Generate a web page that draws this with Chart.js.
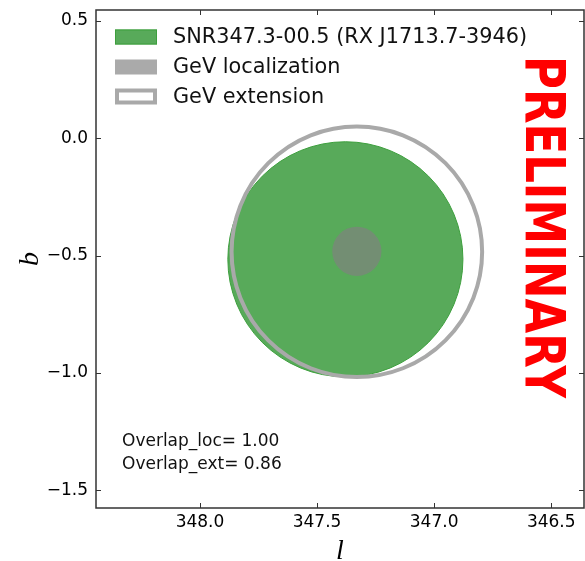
<!DOCTYPE html>
<html>
<head>
<meta charset="utf-8">
<script src="https://cdn.jsdelivr.net/npm/chart.js@4.4.1/dist/chart.umd.min.js"></script>
<style>
  html, body { margin: 0; padding: 0; background: #fff; }
  #wrap { width: 585px; height: 561px; }
</style>
</head>
<body>
<div id="wrap"><canvas id="c" width="585" height="561"></canvas></div>
<script>
// 源的名称、中心位置 (l, b) 和半径（度）
const sourceNames = ['SNR347.3-00.5 (RX J1713.7-3946)', 'GeV localization', 'GeV extension'];
const centerL = [347.379, 347.33, 347.33];
const centerB = [-0.516, -0.482, -0.484];
const radiusDeg = [0.502, 0.105, 0.535];

// 坐标轴范围与刻度
const xRange = [346.36, 348.444];
const yRange = [-1.575, 0.5455];
const xTicks = [348.0, 347.5, 347.0, 346.5];
const yTicks = [0.5, 0.0, -0.5, -1.0, -1.5];

// 重叠度
const overlapLabels = ['Overlap_loc', 'Overlap_ext'];
const overlapValues = [1.00, 0.86];

// 绘制顺序：SNR 在最下，定位圆在最上
const styles = [
    { bg: '#58aa5a', border: '#3d9f3d', width: 1, order: 3 },
    { bg: 'rgba(128,128,128,0.67)', border: 'rgba(0,0,0,0)', width: 0, order: 1 },
    { bg: 'rgba(0,0,0,0)', border: '#a9a9a9', width: 4, order: 2 }
];

// 半径换算成像素
function radiusPx(ctx, i) {
    const s = ctx.chart.scales.x;
    return Math.abs(s.getPixelForValue(centerL[i] + radiusDeg[i]) - s.getPixelForValue(centerL[i]));
}

const datasets = sourceNames.map((name, i) => ({
    label: name,
    data: [{ x: centerL[i], y: centerB[i] }],
    backgroundColor: styles[i].bg,
    borderColor: styles[i].border,
    borderWidth: styles[i].width,
    order: styles[i].order,
    pointRadius: ctx => radiusPx(ctx, i),
    clip: false
}));

// 向内的刻度线和边框
const framePlugin = {
    id: 'frame',
    afterDatasetsDraw(chart) {
        const { ctx, chartArea: a, scales } = chart;
        ctx.save();
        ctx.strokeStyle = '#333';
        ctx.lineWidth = 1.5;
        ctx.strokeRect(a.left, a.top, a.right - a.left, a.bottom - a.top);
        ctx.lineWidth = 1;
        ctx.beginPath();
        xTicks.forEach(v => {
            const x = Math.round(scales.x.getPixelForValue(v)) + 0.5;
            ctx.moveTo(x, a.bottom); ctx.lineTo(x, a.bottom - 5);
            ctx.moveTo(x, a.top); ctx.lineTo(x, a.top + 5);
        });
        yTicks.forEach(v => {
            const y = Math.round(scales.y.getPixelForValue(v)) + 0.5;
            ctx.moveTo(a.left, y); ctx.lineTo(a.left + 5, y);
            ctx.moveTo(a.right, y); ctx.lineTo(a.right - 5, y);
        });
        ctx.stroke();
        ctx.restore();
    }
};

// 图例、注释和 PRELIMINARY 字样
const notePlugin = {
    id: 'notes',
    afterDraw(chart) {
        const ctx = chart.ctx;
        ctx.save();
        ctx.font = '20.8px "DejaVu Sans"';
        ctx.textBaseline = 'middle';
        ctx.textAlign = 'left';
        chart.data.datasets.forEach((ds, i) => {
            const y0 = 29.5 + 30 * i;
            if (i < 2) {
                ctx.fillStyle = ds.backgroundColor;
                ctx.fillRect(115, y0, 42, 15);
                if (ds.borderWidth) {
                    ctx.strokeStyle = ds.borderColor;
                    ctx.lineWidth = 1;
                    ctx.strokeRect(115.5, y0 + 0.5, 41, 14);
                }
            } else {
                ctx.strokeStyle = ds.borderColor;
                ctx.lineWidth = ds.borderWidth;
                ctx.strokeRect(117, y0 + 1, 38, 12);
            }
            ctx.fillStyle = '#111';
            ctx.fillText(ds.label, 173, y0 + 8);
        });

        ctx.font = '17px "DejaVu Sans"';
        overlapLabels.forEach((lab, i) => {
            ctx.fillText(lab + '= ' + overlapValues[i].toFixed(2), 122, 442 + 22.5 * i);
        });

        ctx.translate(540, 227);
        ctx.rotate(Math.PI / 2);
        ctx.font = 'bold 55px "DejaVu Sans"';
        const w = ctx.measureText('PRELIMINARY').width;
        ctx.scale(342 / w, 1);
        ctx.textAlign = 'center';
        ctx.fillStyle = '#ff0000';
        ctx.fillText('PRELIMINARY', 0, 0);
        ctx.restore();
    }
};

const fmt = v => (v < 0 ? '\u2212' : '') + Math.abs(v).toFixed(1);

new Chart(document.getElementById('c'), {
    type: 'scatter',
    data: { datasets },
    plugins: [framePlugin, notePlugin],
    options: {
        responsive: false,
        animation: false,
        events: [],
        layout: { padding: { top: 10, right: 1, left: 0, bottom: 0 } },
        plugins: { legend: { display: false }, tooltip: { enabled: false } },
        scales: {
            x: {
                type: 'linear',
                reverse: true,
                min: xRange[0],
                max: xRange[1],
                afterBuildTicks: s => { s.ticks = xTicks.map(v => ({ value: v })); },
                afterFit: s => { s.height = 53; s.paddingLeft = 0; s.paddingRight = 0; },
                grid: { display: false, drawTicks: false },
                border: { display: false },
                ticks: {
                    padding: 4,
                    color: '#000',
                    font: { family: 'DejaVu Sans', size: 17 },
                    maxRotation: 0,
                    callback: v => fmt(v)
                },
                title: {
                    display: true,
                    text: 'l',
                    color: '#000',
                    font: { family: 'Liberation Serif', size: 28, style: 'italic' },
                    padding: { top: 0, bottom: -7 }
                }
            },
            y: {
                type: 'linear',
                min: yRange[0],
                max: yRange[1],
                afterBuildTicks: s => { s.ticks = yTicks.map(v => ({ value: v })); },
                afterFit: s => { s.width = 96; s.paddingTop = 0; s.paddingBottom = 0; },
                grid: { display: false, drawTicks: false },
                border: { display: false },
                ticks: {
                    padding: 8,
                    color: '#000',
                    font: { family: 'DejaVu Sans', size: 17 },
                    callback: v => fmt(v)
                },
                title: {
                    display: true,
                    text: 'b',
                    color: '#000',
                    font: { family: 'Liberation Serif', size: 28, style: 'italic' },
                    padding: { top: 14, bottom: 0 }
                }
            }
        }
    }
});
</script>
</body>
</html>
